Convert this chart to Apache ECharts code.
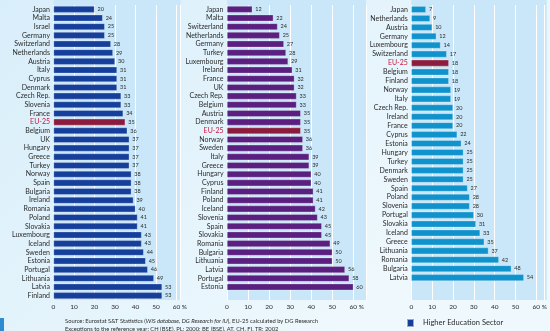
<!DOCTYPE html>
<html>
<head>
<meta charset="utf-8">
<script src="https://cdn.jsdelivr.net/npm/echarts@6/dist/echarts.min.js"></script>
<style>
  html, body { margin: 0; padding: 0; }
  #chart { width: 550px; height: 331px; }
</style>
</head>
<body>
<div id="chart"></div>
<script>
const countries1 = ["Japan", "Malta", "Israel", "Germany", "Switzerland", "Netherlands", "Austria", "Italy", "Cyprus", "Denmark", "Czech Rep.", "Slovenia", "France", "EU-25", "Belgium", "UK", "Hungary", "Greece", "Turkey", "Norway", "Spain", "Bulgaria", "Ireland", "Romania", "Poland", "Slovakia", "Luxembourg", "Iceland", "Sweden", "Estonia", "Portugal", "Lithuania", "Latvia", "Finland"];
const values1 = [20, 24, 25, 25, 28, 29, 30, 31, 31, 31, 33, 33, 34, 35, 36, 37, 37, 37, 37, 38, 38, 38, 39, 40, 41, 41, 43, 43, 44, 45, 46, 49, 53, 53];

const countries2 = ["Japan", "Malta", "Switzerland", "Netherlands", "Germany", "Turkey", "Luxembourg", "Ireland", "France", "UK", "Czech Rep.", "Belgium", "Austria", "Denmark", "EU-25", "Norway", "Sweden", "Italy", "Greece", "Hungary", "Cyprus", "Finland", "Poland", "Iceland", "Slovenia", "Spain", "Slovakia", "Romania", "Bulgaria", "Lithuania", "Latvia", "Portugal", "Estonia"];
const values2 = [12, 22, 24, 25, 27, 28, 29, 31, 32, 32, 33, 33, 35, 35, 35, 36, 36, 39, 39, 40, 40, 41, 41, 42, 43, 45, 45, 49, 50, 50, 56, 58, 60];

const countries3 = ["Japan", "Netherlands", "Austria", "Germany", "Luxembourg", "Switzerland", "EU-25", "Belgium", "Finland", "Norway", "Italy", "Czech Rep.", "Ireland", "France", "Cyprus", "Estonia", "Hungary", "Turkey", "Denmark", "Sweden", "Spain", "Poland", "Slovenia", "Portugal", "Slovakia", "Iceland", "Greece", "Lithuania", "Romania", "Bulgaria", "Latvia"];
const values3 = [7, 9, 10, 12, 14, 17, 18, 18, 18, 19, 19, 20, 20, 20, 22, 24, 25, 25, 25, 25, 27, 28, 28, 30, 31, 33, 35, 37, 42, 48, 54];

const xTicks = [0, 10, 20, 30, 40, 50, 60];
const legendName = "Higher Education Sector";

const FONT = "Lato";
const TEXT = "#2b2b2b";
const EU_BAR = "#8c1c3d";
const EU_TEXT = "#c8163c";
const PANEL_BG = "#c9e7f8";

const panels = [
  { cats: countries1, vals: values1, color: "#163f9c", name: legendName, left: 53.5, width: 127, max: 62, bands: 34 },
  { cats: countries2, vals: values2, color: "#5b1f7f", name: "p2", left: 227, width: 139, max: 66, bands: 34 },
  { cats: countries3, vals: values3, color: "#1093cc", name: "p3", left: 411.3, width: 135.5, max: 64, bands: 33 }
];

const GRID_TOP = 5;
const GRID_H = 295;

const chart = echarts.init(document.getElementById("chart"), null, { renderer: "canvas" });

const option = {
  animation: false,
  backgroundColor: new echarts.graphic.LinearGradient(0, 0, 0.6, 1, [
    { offset: 0, color: "#d8eefa" },
    { offset: 1, color: "#eef8fd" }
  ]),
  textStyle: { fontFamily: FONT },
  graphic: [
    ...panels.map(p => ({
      type: "rect",
      z: -10,
      shape: { x: p.left, y: 0, width: p.width, height: GRID_TOP + GRID_H },
      style: { fill: PANEL_BG }
    })),
    {
      type: "rect",
      shape: { x: 0, y: 318, width: 4, height: 13 },
      style: { fill: "#2f8bd0" }
    },
    {
      type: "text",
      left: 65,
      top: 318,
      style: {
        text: "Source: Eurostat S&T Statistics ({i|WiS database, DG Research for IU}), EU-25 calculated by DG Research",
        fontFamily: FONT,
        fontSize: 5.8,
        fill: TEXT,
        rich: { i: { fontStyle: "italic", fontFamily: FONT, fontSize: 5.8, fill: TEXT } }
      }
    },
    {
      type: "text",
      left: 65,
      top: 326.5,
      style: {
        text: "Exceptions to the reference year: CH (BSE), PL: 2000; BE (BSE), AT, CH, FI, TR: 2002",
        fontFamily: FONT,
        fontSize: 5.8,
        fill: TEXT
      }
    }
  ],
  legend: {
    data: [legendName],
    left: 401,
    top: 313,
    itemWidth: 7,
    itemHeight: 8,
    itemGap: 6,
    icon: "rect",
    textStyle: { fontFamily: FONT, fontSize: 7.5, color: TEXT, padding: [0, 0, 0, 4] }
  },
  grid: panels.map(p => ({
    left: p.left,
    top: GRID_TOP,
    width: p.width,
    height: GRID_H,
    containLabel: false
  })),
  xAxis: panels.map((p, i) => ({
    type: "value",
    gridIndex: i,
    min: 0,
    max: p.max,
    interval: 10,
    axisLine: { show: false },
    axisTick: { show: false },
    splitLine: { show: true, lineStyle: { color: "#ffffff", width: 1 } },
    axisLabel: {
      margin: 3.5,
      fontFamily: FONT,
      fontSize: 6.5,
      color: TEXT,
      formatter: v => (v === 60 ? "{h| %}60 %" : xTicks.includes(v) ? String(v) : ""),
      rich: { h: { color: "transparent", fontSize: 6.5, fontFamily: FONT } }
    }
  })),
  yAxis: panels.map((p, i) => ({
    type: "category",
    gridIndex: i,
    data: p.cats,
    inverse: true,
    max: p.bands - 1,
    axisLine: { show: false },
    axisTick: { show: false },
    axisLabel: {
      interval: 0,
      margin: 3.5,
      fontFamily: FONT,
      fontSize: 7,
      color: (val) => (val === "EU-25" ? EU_TEXT : TEXT)
    }
  })),
  series: panels.map((p, i) => ({
    type: "bar",
    name: p.name,
    xAxisIndex: i,
    yAxisIndex: i,
    barWidth: 6.6,
    itemStyle: { color: p.color, borderColor: "rgba(255,255,255,0.55)", borderWidth: 0.5 },
    label: {
      show: true,
      position: "right",
      distance: 3,
      fontFamily: FONT,
      fontSize: 5.5,
      color: TEXT
    },
    data: p.vals.map((v, k) =>
      p.cats[k] === "EU-25" ? { value: v, itemStyle: { color: EU_BAR } } : v
    )
  }))
};

chart.setOption(option);
</script>
</body>
</html>
